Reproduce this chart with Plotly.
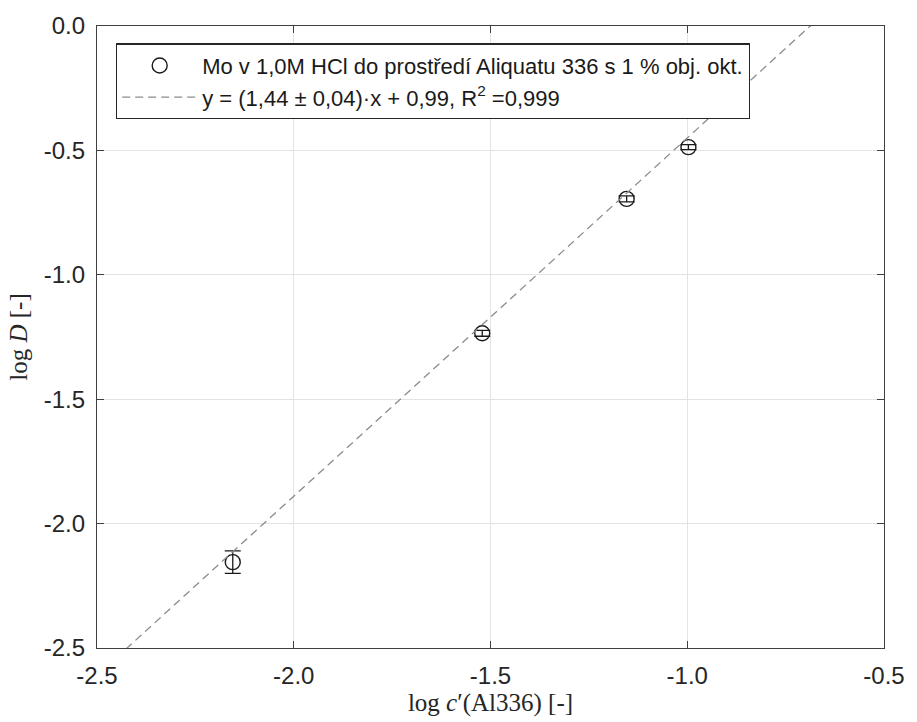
import numpy as np
import plotly.graph_objects as go

# Extraction data: log of free Aliquat 336 concentration vs. log of distribution ratio
log_c = [-2.155, -1.521, -1.154, -0.997]
log_D = [-2.155, -1.235, -0.695, -0.487]
log_D_err = [0.045, 0.012, 0.012, 0.010]

# Linear fit parameters
slope = 1.44
intercept = 0.99
x_range = [-2.5, -0.5]
y_range = [-2.5, 0.0]
tick_vals_x = [-2.5, -2.0, -1.5, -1.0, -0.5]
tick_text_x = ["-2.5", "-2.0", "-1.5", "-1.0", "-0.5"]
tick_vals_y = [-2.5, -2.0, -1.5, -1.0, -0.5, 0.0]
tick_text_y = ["-2.5", "-2.0", "-1.5", "-1.0", "-0.5", "0.0"]

fit_x = np.array(x_range)
fit_y = slope * fit_x + intercept

fig = go.Figure()

fig.add_trace(go.Scatter(
    x=log_c, y=log_D,
    mode="markers",
    name="Mo v 1,0M HCl do prostředí Aliquatu 336 s 1 % obj. okt.",
    marker=dict(symbol="circle-open", size=15, color="#1a1a1a",
                line=dict(width=1.4, color="#1a1a1a")),
    error_y=dict(type="data", array=log_D_err, visible=True,
                 color="#1a1a1a", thickness=1.3, width=8),
))

fig.add_trace(go.Scatter(
    x=fit_x, y=fit_y,
    mode="lines",
    name="y = (1,44 ± 0,04)·x + 0,99, R<sup>2</sup> =0,999",
    line=dict(color="#8c8c8c", width=1.3, dash="8px,5px"),
))

axis_common = dict(
    showgrid=True, gridcolor="#e3e3e3", gridwidth=1,
    zeroline=False,
    showline=True, linecolor="#404040", linewidth=1.3, mirror="ticks",
    ticks="inside", ticklen=7, tickwidth=1, tickcolor="#404040",
    tickfont=dict(family="Liberation Sans, Arial, sans-serif", size=24, color="#262626"),
)
title_font = dict(family="Liberation Serif, Times New Roman, serif", size=25, color="#262626")

fig.update_xaxes(
    range=x_range, tickvals=tick_vals_x, ticktext=tick_text_x,
    ticklabelstandoff=6,
    title=dict(text="log <i>c</i>′(Al336) [-]", font=title_font, standoff=4),
    **axis_common,
)
fig.update_yaxes(
    range=y_range, tickvals=tick_vals_y, ticktext=tick_text_y,
    ticklabelstandoff=6,
    title=dict(text="log <i>D</i> [-]", font=title_font, standoff=8),
    **axis_common,
)

fig.update_layout(
    width=917, height=722,
    margin=dict(l=97, r=24, t=23, b=73),
    paper_bgcolor="white", plot_bgcolor="white",
    showlegend=True,
    legend=dict(
        x=0.024, y=0.972, xanchor="left", yanchor="top",
        bgcolor="white", bordercolor="#262626", borderwidth=1.3,
        font=dict(family="Liberation Sans, Arial, sans-serif", size=22, color="#1a1a1a"),
        itemwidth=75, tracegroupgap=0,
    ),
)

fig.write_html("out.html")
